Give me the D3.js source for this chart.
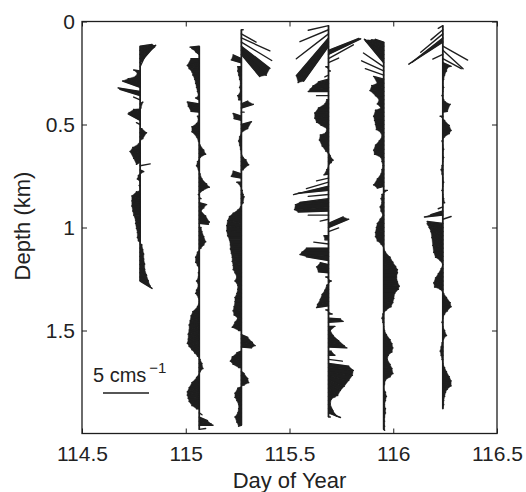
<!DOCTYPE html>
<html>
<head>
<meta charset="utf-8">
<script src="https://cdn.jsdelivr.net/npm/d3@7"></script>
<style>
  body { margin: 0; background: #fff; }
  text { font-family: "Liberation Sans", Arial, sans-serif; fill: #222; }
</style>
</head>
<body>
<script>
var width = 526, height = 492;
var margin = { top: 21.5, right: 29, bottom: 58.5, left: 82 };

// depth bins of the profiler (km)
var depthKm = [
  0.00, 0.02, 0.04, 0.06, 0.08, 0.10, 0.12, 0.14, 0.16, 0.18,
  0.20, 0.22, 0.24, 0.26, 0.28, 0.30, 0.32, 0.34, 0.36, 0.38,
  0.40, 0.42, 0.44, 0.46, 0.48, 0.50, 0.52, 0.54, 0.56, 0.58,
  0.60, 0.62, 0.64, 0.66, 0.68, 0.70, 0.72, 0.74, 0.76, 0.78,
  0.80, 0.82, 0.84, 0.86, 0.88, 0.90, 0.92, 0.94, 0.96, 0.98,
  1.00, 1.02, 1.04, 1.06, 1.08, 1.10, 1.12, 1.14, 1.16, 1.18,
  1.20, 1.22, 1.24, 1.26, 1.28, 1.30, 1.32, 1.34, 1.36, 1.38,
  1.40, 1.42, 1.44, 1.46, 1.48, 1.50, 1.52, 1.54, 1.56, 1.58,
  1.60, 1.62, 1.64, 1.66, 1.68, 1.70, 1.72, 1.74, 1.76, 1.78,
  1.80, 1.82, 1.84, 1.86, 1.88, 1.90, 1.92, 1.94, 1.96, 1.98
];

// time of each profile (day of year) and index of its first depth bin
var profileDay = [114.780, 115.065, 115.268, 115.688, 115.954, 116.239];
var profileFirstBin = [6, 6, 2, 1, 5, 1];

// east (u) and north (v) velocity, mm/s, one value per depth bin
var uP1 = [13, 16, 17, 16, 13, 5, -7, -3, -5, -13, -19, -24, -22, -7, 3, 1, -7, -12, -13, -4,
  2, 7, 3, 0, -2, -8, -11, -7, -4, 11, 4, -2, -3, 0, -1, 0, -4, -9, -9, -9,
  -8, -7, -5, -5, -4, -3, -3, -2, 2, 3, 4, 4, 5, 5, 7, 9, 11, 13];
var vP1 = [2, 5, 10, 13, 15, 11, 1, 2, 3, 5, 7, 4, 7, 3, 2, 0, 3, 4, 7, 2,
  0, 0, -2, 0, 1, 2, 2, -1, -3, 2, -2, -2, -1, 0, 1, 0, 3, 3, 2, 1,
  0, 0, -1, 0, -1, -1, -2, -1, -1, -2, -2, -3, -4, -5, -7, -9, -10, -8];

var uP2 = [-10, -8, -4, -9, -13, -11, -8, -7, -5, -4, -3, -2, -1, -4, -13, -12, -9, -2, -1, -3,
  -8, -8, -3, -1, 1, 5, 7, 1, -2, -3, -1, 1, 3, 8, 11, 4, -1, 2, 8, 5,
  2, 7, 11, 10, 2, 3, 5, 7, 5, 2, -2, -4, -4, -2, 0, -1, -1, -3, -1, -3,
  -4, -1, 0, -2, -7, -9, -10, -11, -11, -12, -12, -13, -11, -8, -5, -2, 1, 3, 4, 1,
  -3, -8, -11, -13, -13, -12, -11, -8, -3, 3, 9, 13, 15, 7];
var vP2 = [-1, 2, 3, 0, -3, -2, -1, 0, 0, 0, 0, 0, 0, 2, 2, 2, 1, 0, 0, 1,
  2, 1, 0, 0, 0, -1, -1, 0, 0, 0, 0, 0, -1, -2, -1, 0, 0, 0, -2, -1,
  0, -1, -3, -1, 0, 0, -1, -2, -1, 0, 0, -1, -2, -1, 0, 0, 0, 0, 0, -1,
  0, 0, 0, -1, -2, -2, -3, -3, -4, -4, -5, -5, -4, -3, -2, -1, 0, 0, -1, 0,
  -2, -3, -4, -4, -3, -2, -1, -1, 0, -2, -4, -3, 0, 1];

var uP3 = [2, 16, 31, 33, 31, 27, 20, -9, -11, -4, -4, -3, -2, -1, -2, -1, -4, -3, 7, 13,
  3, -9, -8, 11, 7, 0, -2, -3, -2, -1, 0, 2, 5, 8, 2, -9, -11, -5, -1, 1,
  2, 3, 2, -1, -4, -9, -13, -15, -16, -16, -15, -13, -12, -12, -11, -10, -10, -9, -9, -7,
  -5, -7, -4, -4, -5, -7, -7, -8, -9, -8, -4, -7, -10, -3, 7, 12, 15, 11, -5, -10,
  -12, -9, -3, 3, 7, 8, 3, -4, -7, -7, -5, -3, -3, -4, -7, -5, -3];
var vP3 = [0, -9, -14, -20, -24, -27, -24, 4, 3, 0, 0, 0, 0, 0, 0, 0, 0, 0, 3, 4,
  0, 3, 2, 3, 0, 0, 0, 0, 0, 0, 0, 0, 2, 1, 0, 3, 2, 0, 0, 0,
  0, 2, 0, 0, 1, 2, 3, 3, 2, 1, 0, 0, -1, -1, -1, -1, -1, -1, -1, 0,
  0, 0, 0, 0, 0, 0, 0, -1, -1, -1, 0, 0, -1, 0, -3, -4, -3, -1, -2, -2,
  -2, -1, 0, -2, -3, -3, -1, 0, -1, -1, 0, 0, 0, 0, 0, -1, -1];

var uP4 = [-22, -31, -35, -35, -33, -27, 33, 35, 27, 11, -3, 2, -4, -11, -17, -20, -22, -13, -2, -4,
  -11, -15, -15, -13, -8, -2, -3, -9, -10, -7, -3, 2, 5, 3, 0, -2, -5, -13, -24, -38,
  -33, -22, -31, -36, -37, -33, -22, -9, 16, 22, 11, -5, -4, -16, -24, -29, -31, -24, -9, -13,
  -11, -3, 3, -2, -4, -7, -9, -12, -13, -3, 4, 13, 16, 7, 2, 5, 11, 17, 20, 3,
  7, 15, 22, 27, 26, 22, 17, 13, 10, 7, 3, 2, 5, 9, 13, 2];
var vP4 = [-5, -13, -27, -41, -44, -38, 13, 17, 15, 5, 0, 0, -2, -3, -3, -2, 0, 0, 0, 0,
  0, -1, -2, -2, -1, 0, 0, 2, 1, -1, -2, -3, -3, -1, 0, 0, -1, -3, -7, -9,
  -3, -2, -4, -2, -3, -1, 0, -2, 7, 9, 4, 0, 0, 2, 0, 0, 2, 4, 2, 2,
  1, 0, 0, 0, -1, -1, -2, -3, -2, 0, 0, -1, 1, 0, 0, -1, -2, -3, -1, 0,
  0, -2, -3, -3, -4, -5, -7, -7, -8, -5, -3, -4, -7, -8, -5, 0];

var uP5 = [-9, -13, -17, -20, -21, -20, -22, -24, -20, -11, -7, -13, -15, -9, -5, -7, -3, -9, -11, -10,
  -9, -8, -3, -2, -5, -9, -11, -10, -3, -2, -1, -2, -3, -7, -11, -7, 4, -2, -3, -2,
  -4, -3, -1, -4, -7, -8, -9, -9, -7, -3, 0, 2, 7, 10, 13, 15, 15, 14, 15, 17,
  16, 12, 11, 10, 8, 3, -1, -2, -1, 0, 1, 3, 7, 9, 10, 9, 5, 4, 7, 9,
  10, 7, 2, 1, 0, 2, 3, 2, 1, 2, 2, 1, 1, 1, 1];
var vP5 = [3, 7, 11, 16, 21, 24, 15, 11, 7, 3, 0, 2, 1, 0, 0, 0, 0, 2, 0, 0,
  0, -1, 0, 0, 0, 0, -1, -1, 0, 0, 0, 0, 0, -1, -3, -2, 0, 0, 0, 0,
  0, 0, 0, 0, 0, 0, -1, -1, -1, 0, 0, 0, -1, -2, -2, -1, 0, 0, -1, -1,
  0, 0, -1, -1, -1, 0, 0, 0, 0, 0, 0, 0, -1, -1, -1, -1, 0, 0, -1, -1,
  -2, -1, 0, 0, 0, 0, 0, 0, 0, 0, 0, 0, 0, -1, -1];

var uP6 = [-5, -13, -24, -33, -37, 27, 22, -11, 20, 9, 5, 4, 2, 1, 0, 1, 0, -1, 1, 3,
  8, 5, -3, 2, 7, 9, 7, 2, -1, 0, 1, 0, 1, 0, -1, -2, -1, 0, 1, 0,
  -1, 0, 1, 2, -5, -13, -20, 9, -17, -17, -16, -15, -13, -12, -11, -10, -8, -3, 0, -2,
  -5, -8, -10, -9, -3, 1, 4, 8, 9, 5, 2, 0, -1, 0, 2, 4, 1, -1, -2, -3,
  -2, -1, 0, 2, 4, 7, 9, 9, 5, 3, 2, 1, 1, 0];
var vP6 = [-3, -11, -20, -26, -24, -15, -20, -5, -11, -4, -1, 0, 0, 0, 0, 0, 0, 0, 0, 2,
  4, 1, 0, 0, -1, -2, -1, 0, 0, 0, 0, 0, 0, 0, 0, 0, 0, 0, 0, 0,
  0, 0, 0, 0, -2, -4, -2, 3, 2, 4, 7, 9, 9, 7, 3, 0, -1, 0, 0, 0,
  -1, -1, -2, -2, 0, 0, 0, -1, -1, -1, 0, 0, 0, 0, 0, -1, 0, 0, 0, 0,
  0, 0, 0, 0, 0, -1, -1, -2, -1, 0, 0, 0, 0, 0];

var profileU = [uP1, uP2, uP3, uP4, uP5, uP6];
var profileV = [vP1, vP2, vP3, vP4, vP5, vP6];

var xTicks = [114.5, 115, 115.5, 116, 116.5];
var xTickLabels = ['114.5', '115', '115.5', '116', '116.5'];
var yTicks = [0, 0.5, 1, 1.5];
var yTickLabels = ['0', '0.5', '1', '1.5'];

var scaleBarMMs = 50;   // 5 cm/s
var ink = '#1e1e1e';

var x = d3.scaleLinear().domain([114.5, 116.5]).range([margin.left, width - margin.right]);
var y = d3.scaleLinear().domain([0, 2]).range([margin.top, height - margin.bottom]);
// stick length: 50 mm/s is 46 px
var speed = d3.scaleLinear().domain([0, 50]).range([0, 46]);

var svg = d3.select('body')
    .append('svg')
    .attr('width', width)
    .attr('height', height);

// build the sticks, one list per profile
var profiles = profileU.map(function(us, p) {
    return us.map(function(u, i) {
        var d = {
            day: profileDay[p],
            depth: depthKm[profileFirstBin[p] + i],
            u: u,
            v: profileV[p][i]
        };
        d.x0 = x(d.day);
        d.y0 = y(d.depth);
        d.x1 = d.x0 + speed(d.u);
        d.y1 = d.y0 - speed(d.v);
        return d;
    });
});
var sticks = d3.merge(profiles);

// the original sticks are packed much tighter: fill the wedge between
// neighbouring sticks when their tips stay close, leave open fans as lines
var wedges = [];
profiles.forEach(function(s) {
    for (var i = 0; i < s.length - 1; i++) {
        var a = s[i], b = s[i + 1];
        var gap = Math.hypot(b.x1 - a.x1, b.y1 - a.y1);
        if (gap < 8) wedges.push({ a: a, b: b });
    }
});

var stickGroup = svg.append('g').attr('id', 'sticks');

stickGroup.selectAll('path.wedge')
    .data(wedges)
    .enter()
    .append('path')
    .attr('class', 'wedge')
    .attr('d', function(w) {
        return d3.line()([[w.a.x0, w.a.y0], [w.a.x1, w.a.y1], [w.b.x1, w.b.y1], [w.b.x0, w.b.y0]]) + 'Z';
    })
    .attr('fill', ink)
    .attr('stroke', ink)
    .attr('stroke-width', 0.4);

// baseline of each profile
stickGroup.selectAll('line.spine')
    .data(profiles)
    .enter()
    .append('line')
    .attr('class', 'spine')
    .attr('x1', function(s) { return s[0].x0; })
    .attr('x2', function(s) { return s[0].x0; })
    .attr('y1', function(s) { return s[0].y0; })
    .attr('y2', function(s) { return s[s.length - 1].y0; })
    .attr('stroke', ink)
    .attr('stroke-width', 1.8);

stickGroup.selectAll('line.stick')
    .data(sticks)
    .enter()
    .append('line')
    .attr('class', 'stick')
    .attr('x1', function(d) { return d.x0; })
    .attr('y1', function(d) { return d.y0; })
    .attr('x2', function(d) { return d.x1; })
    .attr('y2', function(d) { return d.y1; })
    .attr('stroke', ink)
    .attr('stroke-width', 1.4)
    .attr('stroke-linecap', 'round');

// axes, ticks pointing inward
var fontSize = '21px';

svg.append('g')
    .attr('transform', `translate(0, ${height - margin.bottom})`)
    .call(d3.axisBottom(x).tickValues(xTicks).tickSize(-5).tickPadding(13)
        .tickFormat(function(d, i) { return xTickLabels[i]; }));

svg.append('g')
    .attr('transform', `translate(${margin.left}, 0)`)
    .call(d3.axisLeft(y).tickValues(yTicks).tickSize(-5).tickPadding(7)
        .tickFormat(function(d, i) { return yTickLabels[i]; }));

svg.append('g')
    .attr('transform', `translate(0, ${margin.top})`)
    .call(d3.axisTop(x).tickValues(xTicks).tickSize(-5).tickFormat(''));

svg.append('g')
    .attr('transform', `translate(${width - margin.right}, 0)`)
    .call(d3.axisRight(y).tickValues(yTicks).tickSize(-5).tickFormat(''));

svg.selectAll('.domain').remove();
svg.selectAll('.tick line').attr('stroke', ink).attr('stroke-width', 1);
svg.selectAll('.tick text')
    .style('font-family', '"Liberation Sans", Arial, sans-serif')
    .style('font-size', fontSize)
    .attr('fill', '#222');

svg.append('rect')
    .attr('x', margin.left)
    .attr('y', margin.top)
    .attr('width', width - margin.left - margin.right)
    .attr('height', height - margin.top - margin.bottom)
    .attr('fill', 'none')
    .attr('stroke', ink)
    .attr('stroke-width', 1.3);

// axis titles
svg.append('text')
    .attr('x', (margin.left + width - margin.right) / 2)
    .attr('y', 488)
    .attr('text-anchor', 'middle')
    .style('font-size', '22px')
    .text('Day of Year');

svg.append('text')
    .attr('transform', 'translate(30, 226) rotate(-90)')
    .attr('text-anchor', 'middle')
    .style('font-size', '22px')
    .text('Depth (km)');

// scale bar
var barX = 103, barY = 393;
svg.append('line')
    .attr('x1', barX)
    .attr('x2', barX + speed(scaleBarMMs))
    .attr('y1', barY)
    .attr('y2', barY)
    .attr('stroke', ink)
    .attr('stroke-width', 1.5);

var barLabel = svg.append('text')
    .attr('x', 93)
    .attr('y', 382)
    .style('font-size', '20px');
barLabel.append('tspan').text('5 cms');
barLabel.append('tspan')
    .attr('dx', 3)
    .attr('dy', -9)
    .style('font-size', '15px')
    .text('\u22121');
</script>
</body>
</html>
